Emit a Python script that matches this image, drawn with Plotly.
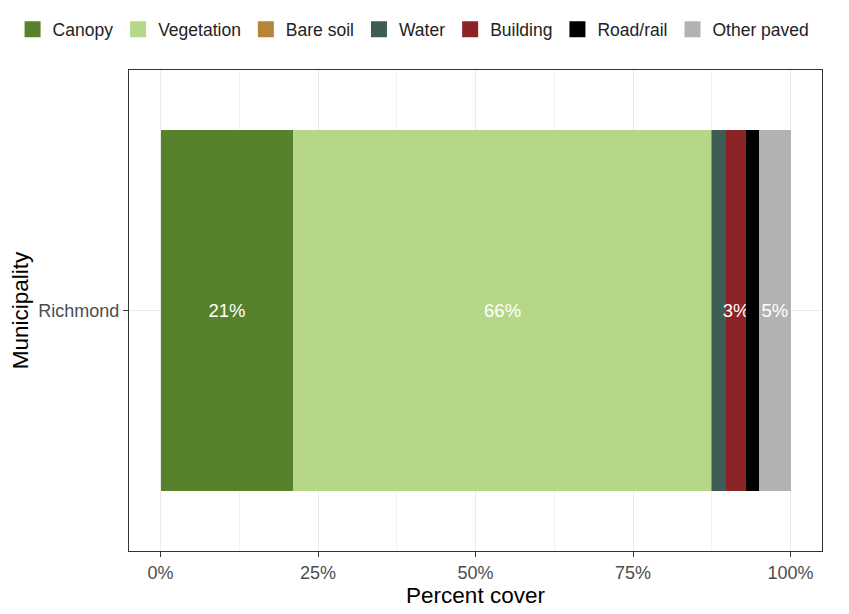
import plotly.graph_objects as go

municipality = ["Richmond"]
classes = ["Canopy", "Vegetation", "Bare soil", "Water", "Building", "Road/rail", "Other paved"]
percent = [21.1, 66.4, 0.1, 2.2, 3.1, 2.1, 5.0]
labels = ["21%", "66%", "", "", "3%", "", "5%"]
colors = ["#58812b", "#b6d788", "#b5853a", "#3e5d57", "#8c2327", "#000000", "#b2b2b2"]
x_ticks = [0, 25, 50, 75, 100]
x_tick_labels = ["0%", "25%", "50%", "75%", "100%"]

FONT = "Liberation Sans, Arial, sans-serif"

fig = go.Figure()
for cls, val, lab, col in zip(classes, percent, labels, colors):
    fig.add_trace(go.Bar(
        y=municipality, x=[val], name=cls, orientation="h",
        marker=dict(color=col, line=dict(width=0)),
        width=0.9,
        text=[lab], textposition="inside", insidetextanchor="middle",
        textangle=0, constraintext="none",
        textfont=dict(color="white", size=18.5, family=FONT),
        hoverinfo="name+x", showlegend=False, legendgroup=cls,
    ))
# legend keys (no data drawn)
for cls, col in zip(classes, colors):
    fig.add_trace(go.Scatter(
        x=[None], y=[None], mode="markers", name=cls, legendgroup=cls,
        marker=dict(symbol="square", size=28, color=col),
        showlegend=True, hoverinfo="skip",
    ))

fig.update_layout(
    barmode="stack",
    width=841, height=606,
    margin=dict(l=121, r=27, t=62, b=63, autoexpand=False),
    paper_bgcolor="white", plot_bgcolor="white",
    font=dict(family=FONT, color="#333333"),
    legend=dict(
        orientation="h", x=-0.168, xanchor="left", y=1.0842, yanchor="middle",
        font=dict(size=17.5, color="#222222"),
        traceorder="normal", itemsizing="trace",
    ),
    xaxis=dict(
        range=[-5, 105], tickvals=x_ticks, ticktext=x_tick_labels,
        showgrid=True, gridcolor="#ebebeb", gridwidth=1,
        minor=dict(dtick=12.5, tick0=0, showgrid=True, gridcolor="#f2f2f2", gridwidth=0.6),
        zeroline=False, automargin=False,
        showline=True, mirror=True, linecolor="#333333", linewidth=1,
        ticks="outside", ticklen=5, tickwidth=1.2, tickcolor="#333333",
        tickfont=dict(size=18, color="#4d4d4d"),
        title=dict(text="Percent cover", font=dict(size=22.5, color="black"), standoff=4),
    ),
    yaxis=dict(
        type="category", range=[-0.6, 0.6], automargin=False,
        showgrid=True, gridcolor="#ebebeb", gridwidth=1,
        showline=True, mirror=True, linecolor="#333333", linewidth=1,
        ticks="outside", ticklen=5, tickwidth=1.2, tickcolor="#333333",
        tickfont=dict(size=18, color="#4d4d4d"),
        title=dict(text="Municipality", font=dict(size=22.5, color="black"), standoff=4),
    ),
)

fig.write_html("out.html")
